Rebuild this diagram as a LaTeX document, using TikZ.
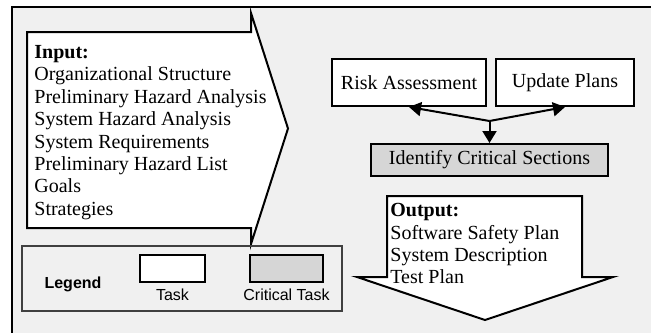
\documentclass[tikz,border=0pt]{standalone}
\usepackage{fontspec}
\setmainfont{Liberation Serif}
\setsansfont{Liberation Sans}
\usetikzlibrary{arrows.meta, positioning}
\definecolor{framebg}{gray}{0.94}
\definecolor{critfill}{gray}{0.84}

\begin{document}
\begin{tikzpicture}[x=0.5pt, y=-0.5pt,
    taskbox/.style={draw, line width=1pt, fill=white, inner sep=0pt, font=\fontsize{10}{11}\selectfont},
    critbox/.style={taskbox, fill=critfill},
    flow/.style={line width=1pt, -{Triangle[length=6pt, width=7pt]}},
    blockarrow/.style={draw, line width=1pt, fill=white, line join=miter},
    listtext/.style={anchor=north west, inner sep=0pt, align=left}
  ]
    \useasboundingbox (0,0) rectangle (651,332);
    \begin{scope}
      \clip (0,0) rectangle (651,332);
      \draw[line width=1.2pt, fill=framebg] (12,7) rectangle (670,350);
    \end{scope}

    % input and output
    \draw[blockarrow] (27,32) -- (251,32) -- (251,13) -- (288,128.5) -- (251,244) -- (251,228) -- (27,228) -- cycle;
    \node[listtext, font=\fontsize{10}{11.2}\selectfont] (input) at (34,45)
      {\textbf{Input:}\\ Organizational Structure\\ Preliminary Hazard Analysis\\ System Hazard Analysis\\ System Requirements\\ Preliminary Hazard List\\ Goals\\ Strategies};

    \draw[blockarrow] (387,196) -- (582,196) -- (582,277) -- (613,277) -- (485,320) -- (357,277) -- (387,277) -- cycle;
    \node[listtext, font=\fontsize{10}{11.2}\selectfont] (output) at (390,203)
      {\textbf{Output:}\\ Software Safety Plan\\ System Description\\ Test Plan};

    % tasks
    \node[taskbox, minimum width=77pt, minimum height=23.5pt] (risk) at (409,82.5) {Risk Assessment};
    \node[taskbox, minimum width=69pt, minimum height=23.5pt] (update) at (565,82.5) {Update Plans};
    \node[critbox, minimum width=118.5pt, minimum height=16pt] (identify) at (489.5,160) {Identify Critical Sections};

    \coordinate (split) at (489.5,121);
    \draw[flow] (split) -- (risk.south);
    \draw[flow] (split) -- (update.south);
    \draw[flow] (split) -- (identify.north);

    % legend
    \node[draw=black!75, line width=0.6pt, minimum width=160pt, minimum height=32.5pt, inner sep=0pt] (legend) at (182,278.5) {};
    \node[font=\sffamily\bfseries\fontsize{8}{9}\selectfont] (legtitle) at (73,284) {Legend};
    \node[taskbox, minimum width=32.5pt, minimum height=13.5pt] (legtask) at (172.5,268.5) {};
    \node[critbox, minimum width=36.5pt, minimum height=13.5pt] (legcrit) at (286.5,268.5) {};
    \node[font=\sffamily\fontsize{8}{9}\selectfont, below=1.5pt of legtask, inner sep=1pt] (tasklabel) {Task};
    \node[font=\sffamily\fontsize{8}{9}\selectfont, below=1.5pt of legcrit, inner sep=1pt] (critlabel) {Critical Task};
  \end{tikzpicture}
\end{document}
